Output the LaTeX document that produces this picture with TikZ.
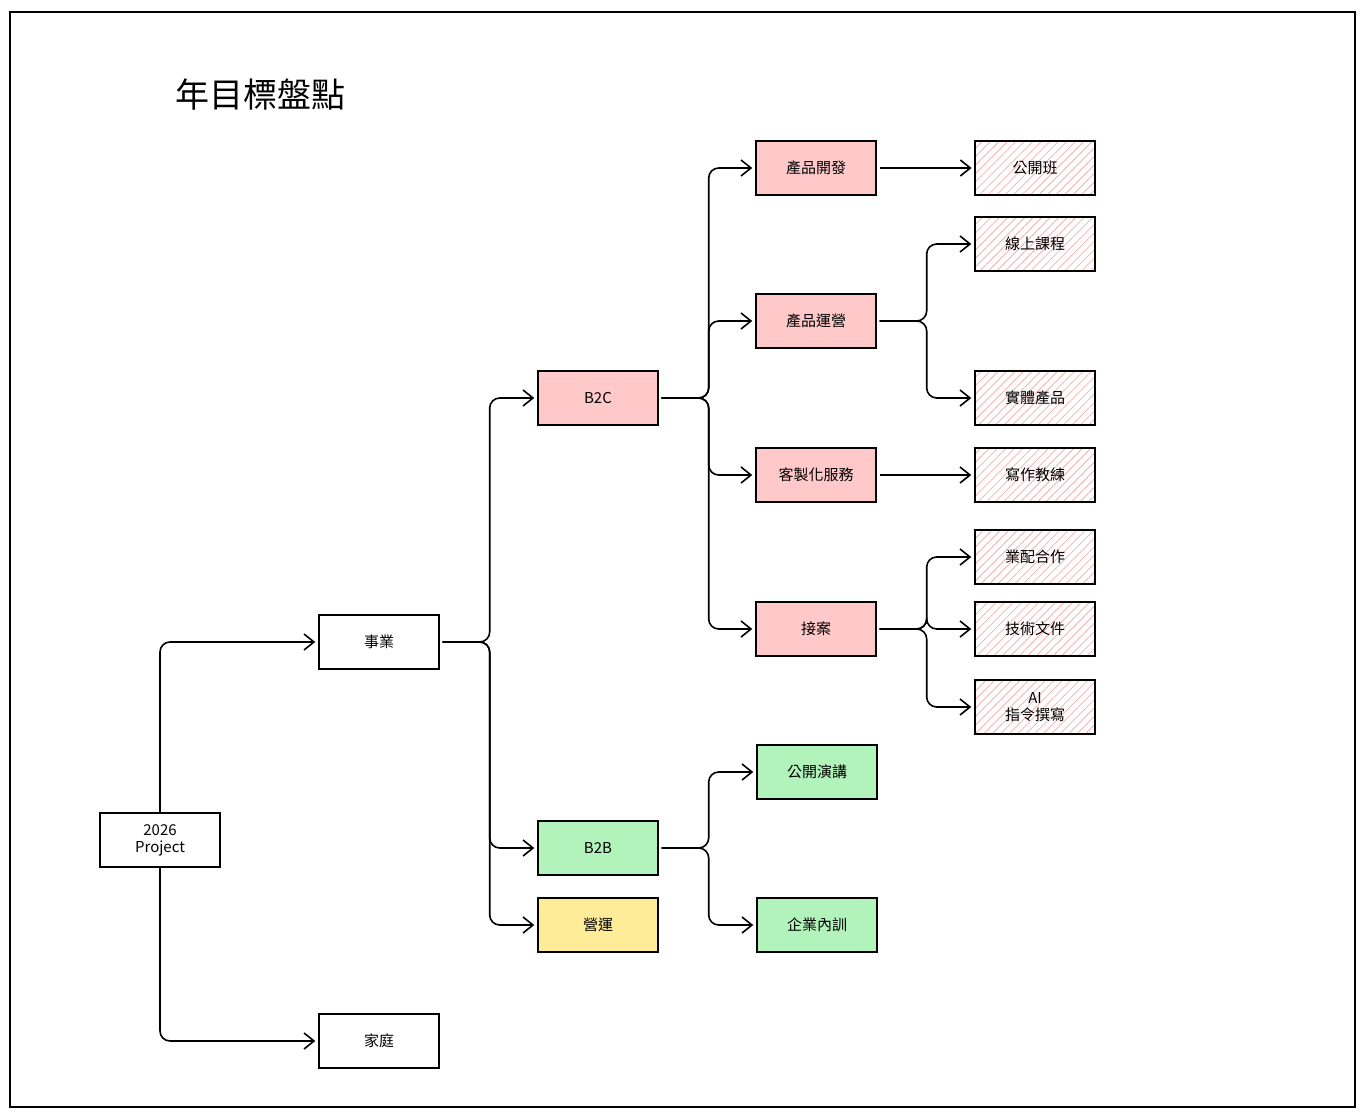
\documentclass[tikz,border=0pt]{standalone}
\usepackage{fontspec}
\newfontfamily\cjk{Noto Sans CJK TC}
\usetikzlibrary{arrows.meta,patterns.meta}
\definecolor{pk}{HTML}{FFC9C9}
\definecolor{gr}{HTML}{B2F2BB}
\definecolor{yl}{HTML}{FFEC99}
\definecolor{hp}{HTML}{F7B0B0}
\begin{document}
\begin{tikzpicture}[x=1pt,y=-1pt,
 box/.style={draw=black,line width=1.4pt,minimum width=120pt,minimum height=54pt,inner sep=0pt,align=center,font=\cjk\fontsize{15}{17}\selectfont},
 pink/.style={box,fill=pk},
 green/.style={box,fill=gr},
 yellow/.style={box,fill=yl},
 hatch/.style={box,pattern={Lines[angle=45,distance=6pt,line width=0.8pt]},pattern color=hp},
 conn/.style={line width=1.6pt,rounded corners=10pt,-{Straight Barb[length=10pt,width=16pt,line width=1.6pt]}}]
\useasboundingbox (0,0) rectangle (1365,1115);
\draw[line width=1.3pt] (10,12) rectangle (1355,1107);
\node[anchor=west,font=\cjk\fontsize{34}{38}\selectfont] (title) at (172,95) {年目標盤點};
\node[box] (proj) at (160,840) {2026\\Project};
\node[box] (biz) at (379,642) {事業};
\node[box] (home) at (379,1041) {家庭};
\node[pink] (b2c) at (598,398) {B2C};
\node[green] (b2b) at (598,848) {B2B};
\node[yellow] (ops) at (598,925) {營運};
\node[pink] (pd) at (816,168) {產品開發};
\node[pink] (po) at (816,321) {產品運營};
\node[pink] (cs) at (816,475) {客製化服務};
\node[pink] (jc) at (816,629) {接案};
\node[green] (talk) at (817,772) {公開演講};
\node[green] (train) at (817,925) {企業內訓};
\node[hatch] (l1) at (1035,168) {公開班};
\node[hatch] (l2) at (1035,244) {線上課程};
\node[hatch] (l3) at (1035,398) {實體產品};
\node[hatch] (l4) at (1035,475) {寫作教練};
\node[hatch] (l5) at (1035,557) {業配合作};
\node[hatch] (l6) at (1035,629) {技術文件};
\node[hatch] (l7) at (1035,707) {AI\\指令撰寫};
\draw[conn] (proj.north) |- ([xshift=-3pt]biz.west);
\draw[conn] (proj.south) |- ([xshift=-3pt]home.west);
\foreach \t in {b2c,b2b,ops}{\draw[conn] ([xshift=3pt]biz.east) -- ++(47,0) |- ([xshift=-3pt]\t.west);}
\foreach \t in {pd,po,cs,jc}{\draw[conn] ([xshift=3pt]b2c.east) -- ++(47,0) |- ([xshift=-3pt]\t.west);}
\foreach \t in {talk,train}{\draw[conn] ([xshift=3pt]b2b.east) -- ++(47,0) |- ([xshift=-3pt]\t.west);}
\draw[conn] ([xshift=3pt]pd.east) -- ([xshift=-3pt]l1.west);
\draw[conn] ([xshift=3pt]cs.east) -- ([xshift=-3pt]l4.west);
\foreach \t in {l2,l3}{\draw[conn] ([xshift=3pt]po.east) -- ++(47,0) |- ([xshift=-3pt]\t.west);}
\foreach \t in {l5,l6,l7}{\draw[conn] ([xshift=3pt]jc.east) -- ++(47,0) |- ([xshift=-3pt]\t.west);}
\end{tikzpicture}
\end{document}
